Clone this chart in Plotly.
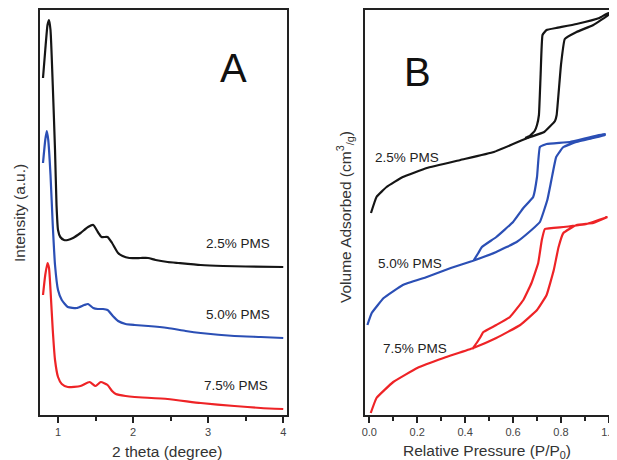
import plotly.graph_objects as go

# ---------------- Panel A: XRD ----------------
theta_black = [0.80, 0.83, 0.86, 0.88, 0.90, 0.93, 0.96, 0.98, 1.00, 1.03, 1.08, 1.13, 1.20, 1.30, 1.40,
               1.47, 1.53, 1.58, 1.66, 1.72, 1.80, 1.86, 1.95, 2.10, 2.20, 2.30, 2.46, 2.60, 2.90, 3.20, 3.50, 4.00]
int_black = [337, 365, 390, 395, 385, 330, 265, 210, 185, 178, 175, 175, 177, 182, 188,
             190, 183, 178, 178, 172, 162, 159, 157, 157, 157, 155, 153, 152, 150, 149, 148.5, 148]

theta_blue = [0.80, 0.83, 0.85, 0.87, 0.90, 0.93, 0.96, 1.00, 1.05, 1.13, 1.25, 1.35, 1.40, 1.47, 1.53,
              1.60, 1.66, 1.73, 1.80, 1.90, 2.02, 2.20, 2.46, 2.70, 2.90, 3.35, 3.70, 4.00]
int_blue = [252, 275, 284, 275, 240, 190, 150, 125, 115, 108, 107, 110, 111, 107, 106,
            106, 105, 99, 94, 91, 90, 89, 87, 84, 82, 79, 78, 77]

theta_red = [0.80, 0.83, 0.86, 0.88, 0.90, 0.93, 0.96, 1.00, 1.05, 1.13, 1.30, 1.42, 1.50, 1.57, 1.66,
             1.72, 1.77, 1.90, 2.02, 2.46, 2.90, 3.35, 3.70, 4.00]
int_red = [120, 140, 152, 147, 125, 85, 55, 38, 31, 28, 29, 33, 29, 33, 30,
           24, 21, 19, 18, 16, 12, 9, 7, 6]

# ---------------- Panel B: isotherms ----------------
p_black = [0.007, 0.03, 0.072, 0.14, 0.24, 0.38, 0.52, 0.66, 0.73, 0.775, 0.782, 0.80, 0.816, 0.865, 0.935, 0.997,
           0.997, 0.96, 0.865, 0.78, 0.74, 0.723, 0.715, 0.708, 0.70, 0.69, 0.67, 0.65]
v_black = [202, 218, 228, 238, 247, 255, 263, 277, 283, 294, 300, 350, 376, 383, 390, 400,
           402, 397, 391, 387, 385, 380, 340, 300, 290, 284, 279, 277]

p_blue = [-0.008, 0.01, 0.06, 0.14, 0.24, 0.34, 0.43, 0.53, 0.615, 0.677, 0.712, 0.743, 0.76, 0.78, 0.81, 0.865, 0.935, 0.983,
          0.983, 0.837, 0.74, 0.712, 0.70, 0.684, 0.643, 0.60, 0.53, 0.47, 0.455, 0.434]
v_blue = [90, 102, 117, 130, 138, 147, 154, 163, 173, 185, 193, 215, 235, 258, 268, 273, 277, 280,
          281, 273, 271, 268, 238, 218, 207, 193, 178, 168, 162, 154]

p_red = [0.006, 0.03, 0.10, 0.20, 0.31, 0.434, 0.53, 0.63, 0.70, 0.74, 0.77, 0.79, 0.81, 0.865, 0.935, 0.994,
         0.994, 0.907, 0.81, 0.733, 0.72, 0.705, 0.677, 0.643, 0.587, 0.53, 0.476, 0.464, 0.448, 0.43]
v_red = [2, 17, 33, 47, 57, 67, 77, 90, 105, 120, 145, 168, 182, 190, 192, 198,
         198, 191, 188, 186, 175, 152, 132, 115, 98, 90, 83, 78, 72, 66]

series_labels = ["2.5% PMS", "5.0% PMS", "7.5% PMS"]
x_ticks_a = [1, 2, 3, 4]
x_ticks_b = [0.0, 0.2, 0.4, 0.6, 0.8, 1.0]

BLACK = "#151515"
BLUE = "#2b4fb5"
RED = "#ee2326"
FONT = "Liberation Sans, Arial, sans-serif"

fig = go.Figure()
for x, y, c in [(theta_black, int_black, BLACK), (theta_blue, int_blue, BLUE), (theta_red, int_red, RED)]:
    fig.add_trace(go.Scatter(x=x, y=y, mode="lines", line=dict(color=c, width=2.2, shape="spline", smoothing=0.5),
                             xaxis="x", yaxis="y", showlegend=False, hoverinfo="skip"))
for x, y, c in [(p_black, v_black, BLACK), (p_blue, v_blue, BLUE), (p_red, v_red, RED)]:
    fig.add_trace(go.Scatter(x=x, y=y, mode="lines", line=dict(color=c, width=2.2, shape="spline", smoothing=0.3),
                             xaxis="x2", yaxis="y2", showlegend=False, hoverinfo="skip"))

# page body has an 8px margin: figure is drawn offset by OFF in the window
OFF = 8
W, H = 609, 452


def fx(px):
    return (px - OFF) / W


def fy(py):
    return 1 - (py - OFF) / H


ax_common = dict(showgrid=False, zeroline=False, showline=True, linecolor="#222", linewidth=1.5, mirror=True,
                 automargin=False)

fig.update_layout(
    width=W, height=H, margin=dict(l=0, r=0, t=0, b=0, autoexpand=False),
    paper_bgcolor="white", plot_bgcolor="white",
    font=dict(family=FONT, color="#222"),
    xaxis=dict(domain=[fx(40), fx(287)], range=[0.76, 4.05], tickvals=x_ticks_a,
               ticktext=[str(t) for t in x_ticks_a], ticks="outside", ticklen=6, tickwidth=1.5, tickcolor="#222",
               minor=dict(tickvals=[1.5, 2.5, 3.5], ticks="outside", ticklen=4, tickwidth=1.5, tickcolor="#222"),
               tickfont=dict(size=11, color="#444"), **ax_common),
    yaxis=dict(domain=[fy(415), fy(10)], range=[0, 405], showticklabels=False, ticks="", **ax_common),
    xaxis2=dict(domain=[fx(365), fx(612)], range=[-0.018, 1.013], tickvals=x_ticks_b,
                ticktext=["%.1f" % t for t in x_ticks_b], ticks="outside", ticklen=6, tickwidth=1.5, tickcolor="#222",
                minor=dict(tickvals=[0.1, 0.3, 0.5, 0.7, 0.9], ticks="outside", ticklen=4, tickwidth=1.5, tickcolor="#222"),
                tickfont=dict(size=11, color="#444"), anchor="y2", **ax_common),
    yaxis2=dict(domain=[fy(415), fy(10)], range=[0, 405], showticklabels=False, ticks="", anchor="x2", **ax_common),
)

ann = []


def label(text, px, py, size, color="#222", angle=0):
    ann.append(dict(text=text, x=fx(px), y=fy(py), xref="paper", yref="paper", showarrow=False,
                    xanchor="center", yanchor="middle", textangle=angle,
                    font=dict(size=size, color=color, family=FONT)))


# panel letters
label("A", 233, 68, 40, "#111")
label("B", 417, 72, 40, "#111")
# series labels
for lab, (px, py) in zip(series_labels, [(238, 243), (238, 314), (236, 385)]):
    label(lab, px, py, 13.5)
for lab, (px, py) in zip(series_labels, [(407, 157), (410, 263), (415, 348)]):
    label(lab, px, py, 13.5)
# axis titles
label("2 theta (degree)", 167, 451, 15.5, "#333")
label("Relative Pressure (P/P<sub>0</sub>)", 487, 451, 15.5, "#333")
label("Intensity (a.u.)", 19, 213, 15.5, "#333", -90)
label("Volume Adsorbed (cm<sup>3</sup><sub>/g</sub>)", 345, 217, 15.5, "#333", -90)
fig.update_layout(annotations=ann)

fig.write_html("out.html")
